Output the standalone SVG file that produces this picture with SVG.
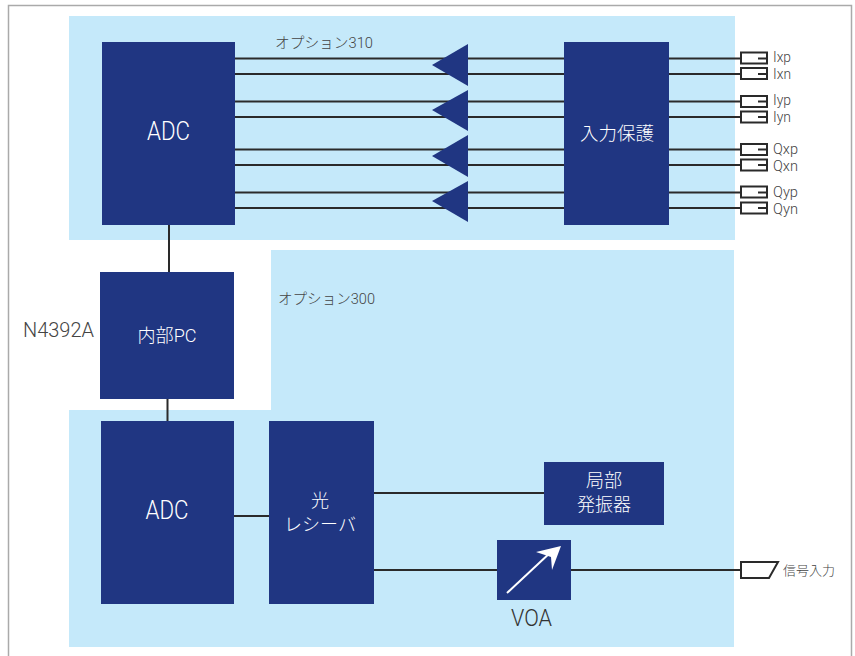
<svg xmlns="http://www.w3.org/2000/svg" width="855" height="656" viewBox="0 0 855 656">
<style>
.bg{fill:#c5e9fa}
.n{fill:#203682}
.l{stroke:#2a2a2a;stroke-width:2;fill:none}
.p{stroke:#2a2a2a;stroke-width:2;fill:#fff}
text{font-family:"Roboto","Noto Sans CJK JP",sans-serif;font-weight:300}
.w{fill:#fff;text-anchor:middle}
.g{fill:#444}
</style>
<rect width="855" height="656" fill="#fff"/>
<path d="M8.5 656V5.500H851.500V656" fill="none" stroke="#aaa" stroke-width="1.500"/>
<rect class="bg" x="69" y="16" width="666" height="224"/>
<path class="bg" d="M271 250H734V647H69V410H271Z"/>
<g id="connectors">
<path class="l" d="M234 58.500H741M234 74H741M234 101.500H741M234 117H741M234 149.500H741M234 165H741M234 192.500H741M234 208H741"/>
<path class="l" d="M169 224V272M167.500 399V421M234 516H269M374 493H544M374 570H741"/>
</g>
<g id="adc-top"><rect class="n" x="102" y="42" width="133" height="183"/><text class="w" x="168.500" y="140" font-size="25" textLength="43" lengthAdjust="spacingAndGlyphs">ADC</text></g>
<g id="amps">
<path class="n" d="M432 65L468 44V86Z"/>
<path class="n" d="M432 110L468 90V131Z"/>
<path class="n" d="M432 156L468 135V177Z"/>
<path class="n" d="M432 201L468 181V222Z"/>
</g>
<g id="protect"><rect class="n" x="564" y="42" width="105" height="183"/><text class="w" x="617" y="140" font-size="18.500">入力保護</text></g>
<text class="g" x="275" y="48" font-size="14.500" textLength="98" lengthAdjust="spacingAndGlyphs">オプション310</text>
<g id="ports">
<g id="p1"><rect class="p" x="741" y="52.500" width="26" height="11"/><path class="l" d="M758 58.500H767"/><text class="g" x="773" y="62" font-size="15" textLength="18" lengthAdjust="spacingAndGlyphs">Ixp</text></g>
<g id="p2"><rect class="p" x="741" y="68" width="26" height="11"/><path class="l" d="M758 74H767"/><text class="g" x="773" y="79" font-size="15" textLength="18" lengthAdjust="spacingAndGlyphs">Ixn</text></g>
<g id="p3"><rect class="p" x="741" y="96" width="26" height="11"/><path class="l" d="M758 101.500H767"/><text class="g" x="773" y="105" font-size="15" textLength="18" lengthAdjust="spacingAndGlyphs">Iyp</text></g>
<g id="p4"><rect class="p" x="741" y="111.500" width="26" height="11"/><path class="l" d="M758 117H767"/><text class="g" x="773" y="122" font-size="15" textLength="18" lengthAdjust="spacingAndGlyphs">Iyn</text></g>
<g id="p5"><rect class="p" x="741" y="144" width="26" height="11"/><path class="l" d="M758 149.500H767"/><text class="g" x="773" y="154" font-size="15" textLength="25" lengthAdjust="spacingAndGlyphs">Qxp</text></g>
<g id="p6"><rect class="p" x="741" y="159.500" width="26" height="11"/><path class="l" d="M758 165H767"/><text class="g" x="773" y="171" font-size="15" textLength="25" lengthAdjust="spacingAndGlyphs">Qxn</text></g>
<g id="p7"><rect class="p" x="741" y="186.500" width="26" height="11"/><path class="l" d="M758 192.500H767"/><text class="g" x="773" y="197" font-size="15" textLength="25" lengthAdjust="spacingAndGlyphs">Qyp</text></g>
<g id="p8"><rect class="p" x="741" y="202.500" width="26" height="11"/><path class="l" d="M758 208H767"/><text class="g" x="773" y="214" font-size="15" textLength="25" lengthAdjust="spacingAndGlyphs">Qyn</text></g>
</g>
<g id="pc"><rect class="n" x="100" y="272" width="134" height="127"/><text class="w" x="167" y="342" font-size="18" textLength="59" lengthAdjust="spacingAndGlyphs">内部PC</text></g>
<text class="g" x="23" y="337" font-size="20.500" textLength="71" lengthAdjust="spacingAndGlyphs">N4392A</text>
<text class="g" x="278" y="304" font-size="14.500" textLength="97" lengthAdjust="spacingAndGlyphs">オプション300</text>
<g id="adc-bottom"><rect class="n" x="101" y="421" width="133" height="183"/><text class="w" x="167" y="519" font-size="25" textLength="43" lengthAdjust="spacingAndGlyphs">ADC</text></g>
<g id="receiver"><rect class="n" x="269" y="421" width="105" height="183"/><text class="w" x="320" y="507" font-size="18">光</text><text class="w" x="320" y="531" font-size="18">レシーバ</text></g>
<g id="lo"><rect class="n" x="544" y="462" width="120" height="63"/><text class="w" x="604" y="487" font-size="18">局部</text><text class="w" x="604" y="511" font-size="18">発振器</text></g>
<g id="voa"><rect class="n" x="497" y="540" width="74" height="60"/>
<path d="M507 593L552 551" stroke="#fff" stroke-width="2" fill="none"/>
<path d="M561 546L536 552L551 557L552 570Z" fill="#fff"/>
<text x="531.500" y="626" font-size="24" text-anchor="middle" fill="#333" textLength="41" lengthAdjust="spacingAndGlyphs">VOA</text></g>
<g id="signal"><path class="p" d="M741 562H778L769 578H741Z"/><text class="g" x="783" y="575" font-size="13">信号入力</text></g>
</svg>
